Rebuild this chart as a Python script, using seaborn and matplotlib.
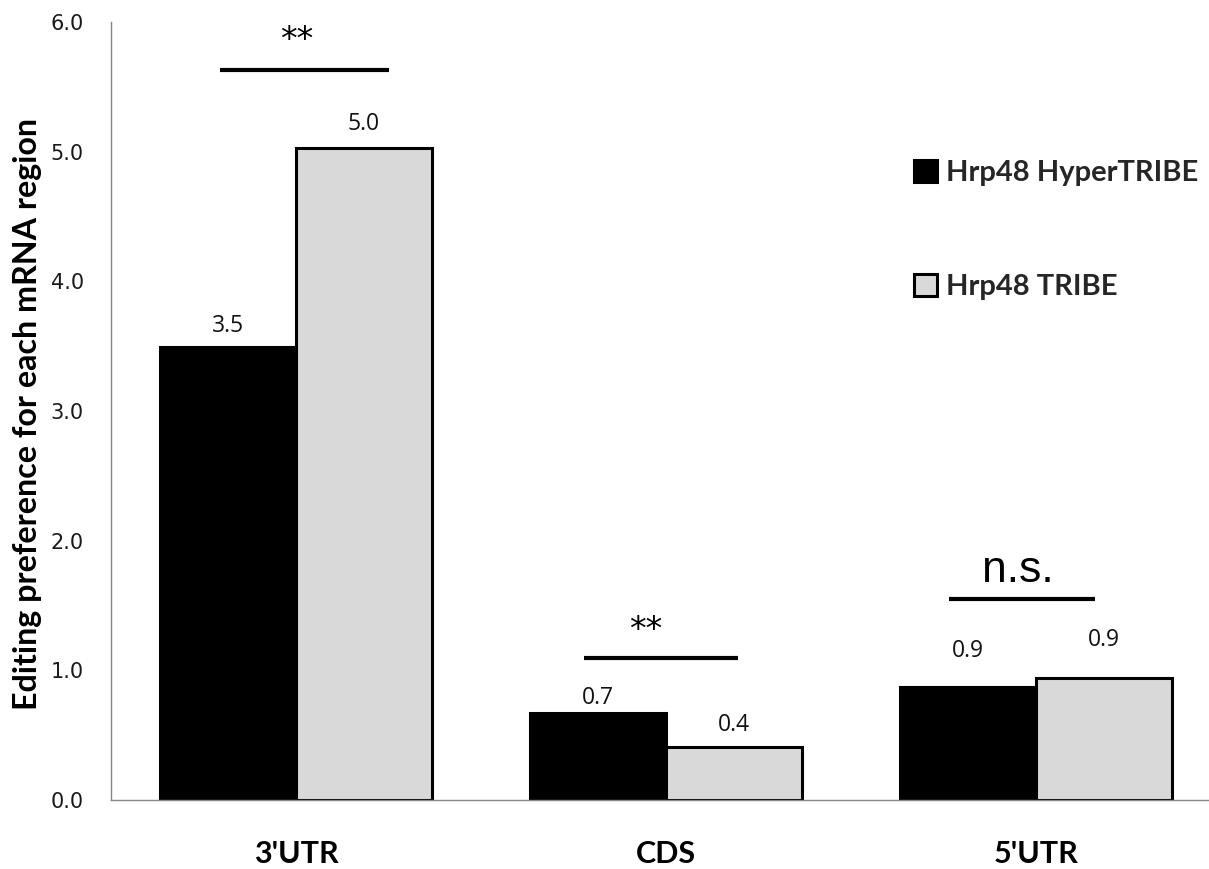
import matplotlib
matplotlib.use("Agg")
import matplotlib.pyplot as plt
import seaborn as sns
import pandas as pd

# ---------------- data ----------------
regions = ["3'UTR", "CDS", "5'UTR"]
series_names = ["Hrp48 HyperTRIBE", "Hrp48 TRIBE"]
hypertribe_values = [3.49, 0.67, 0.87]
tribe_values = [5.03, 0.41, 0.94]
hypertribe_labels = ["3.5", "0.7", "0.9"]
tribe_labels = ["5.0", "0.4", "0.9"]
y_ticks = [0.0, 1.0, 2.0, 3.0, 4.0, 5.0, 6.0]
sig_texts = ["**", "**", "n.s."]
sig_line_y = [5.63, 1.095, 1.55]
sig_line_x0 = [-0.206, 0.779, 1.765]
sig_line_x1 = [0.250, 1.195, 2.159]
sig_text_x = [0.002, 0.944, 1.951]
sig_text_y = [5.785, 1.233, 1.681]

# ---------------- styles ----------------
colors = {"Hrp48 HyperTRIBE": "#000000", "Hrp48 TRIBE": "#D9D9D9"}
hyper_label_pad_pt = [10.8, 6.5, 21.6]
tribe_label_pad_pt = [13.0, 11.5, 23.0]
sig_text_size = [24, 24, 32]
sig_text_family = ["DejaVu Sans", "DejaVu Sans", "Liberation Sans"]

df = pd.DataFrame({
    "region": regions * 2,
    "series": [series_names[0]] * 3 + [series_names[1]] * 3,
    "value": hypertribe_values + tribe_values,
})

sns.set_style("white")
plt.rcParams["font.family"] = ["DejaVu Sans"]

W, H = 1209, 869
fig = plt.figure(figsize=(W / 100, H / 100), dpi=100)
ax = fig.add_axes([111 / W, 69 / H, 1110 / W, 778 / H])

sns.barplot(data=df, x="region", y="value", hue="series", order=regions,
            hue_order=series_names, palette=colors, saturation=1,
            width=0.735, edgecolor="black", linewidth=2.2, errorbar=None, ax=ax)

ax.set_xlim(-0.5, 2.5)
ax.set_ylim(0, 6)
ax.set_yticks(y_ticks)
ax.set_yticklabels([f"{t:.1f}" for t in y_ticks])
ax.set_xlabel("")
ax.set_ylabel("")

for s in ["top", "right"]:
    ax.spines[s].set_visible(False)
for s in ["left", "bottom"]:
    ax.spines[s].set_color("#868686")
    ax.spines[s].set_linewidth(1.0)

ax.tick_params(axis="y", direction="in", length=6, width=1.0, color="#868686",
               pad=19.5, labelsize=15, labelcolor="#1a1a1a")
ax.tick_params(axis="x", length=0, pad=29)
for lab in ax.get_xticklabels():
    lab.set_fontfamily("Lato")
    lab.set_fontweight("bold")
    lab.set_fontsize(22)
    lab.set_color("black")

# value labels
for cont, labels, pads in zip(ax.containers, [hypertribe_labels, tribe_labels],
                              [hyper_label_pad_pt, tribe_label_pad_pt]):
    for bar, txt, pad in zip(cont.patches, labels, pads):
        ax.annotate(txt, (bar.get_x() + bar.get_width() / 2, bar.get_height()),
                    xytext=(0, pad), textcoords="offset points",
                    ha="center", va="baseline", fontsize=16.5, color="#111111",
                    family="Open Sans")

# significance annotations
for x0, x1, y in zip(sig_line_x0, sig_line_x1, sig_line_y):
    ax.plot([x0, x1], [y, y], color="black", lw=3.0, solid_capstyle="butt",
            clip_on=False)
for x, y, t, sz, fam in zip(sig_text_x, sig_text_y, sig_texts, sig_text_size,
                            sig_text_family):
    ax.text(x, y, t, ha="center", va="baseline", fontsize=sz, family=fam,
            color="black")

# y label
fig.text(28 / W, 1 - 414 / H, "Editing preference for each mRNA region",
         rotation=90, ha="center", va="center", family="Lato",
         fontweight="bold", fontsize=23.2, color="black")

# legend
sns.move_legend(ax, "upper left", bbox_to_anchor=(914 / W, 1 - 160 / H),
                bbox_transform=fig.transFigure, title=None, frameon=False,
                prop={"family": "Lato", "weight": "bold", "size": 21},
                handlelength=0.8, handleheight=0.8, labelspacing=3.0,
                handletextpad=0.3, borderpad=0, borderaxespad=0)

fig.savefig("out.png", dpi=100)
